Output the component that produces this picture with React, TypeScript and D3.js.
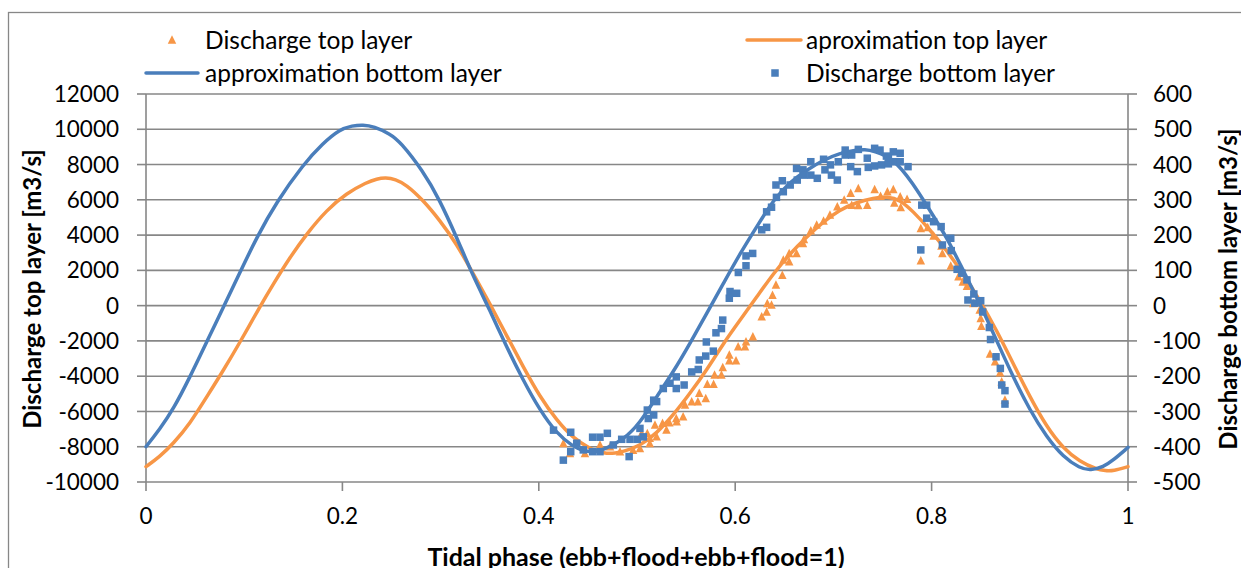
import React from "react";
import * as d3 from "d3";

// ---------- data ----------
const xTicks = [0, 0.2, 0.4, 0.6, 0.8, 1];
const leftTicks = [-10000, -8000, -6000, -4000, -2000, 0, 2000, 4000, 6000, 8000, 10000, 12000];
const rightTicks = [-500, -400, -300, -200, -100, 0, 100, 200, 300, 400, 500, 600];

// approximation top layer (left axis) [phase, m3/s]
const approxTop: [number, number][] = [
  [0, -9130], [0.014, -8560], [0.028, -7810], [0.045, -6670], [0.062, -5160], [0.079, -3650],
  [0.096, -2050], [0.113, -350], [0.13, 1260], [0.147, 2770], [0.164, 4100], [0.184, 5420],
  [0.204, 6370], [0.225, 7000], [0.235, 7190], [0.244, 7260], [0.254, 7170], [0.265, 6860],
  [0.282, 5990], [0.299, 4850], [0.316, 3530], [0.333, 1830], [0.35, 130], [0.367, -1670],
  [0.384, -3460], [0.401, -5160], [0.418, -6480], [0.435, -7520], [0.452, -8090], [0.46, -8280],
  [0.469, -8390], [0.478, -8360], [0.486, -8280], [0.503, -7950], [0.52, -7240], [0.537, -6200],
  [0.554, -4970], [0.571, -3650], [0.588, -2140], [0.605, -820], [0.622, 500], [0.639, 1830],
  [0.656, 2960], [0.673, 3900], [0.69, 4760], [0.706, 5420], [0.723, 5850], [0.741, 6100],
  [0.755, 6190], [0.768, 6000], [0.781, 5350], [0.798, 4330], [0.815, 3150], [0.832, 1830],
  [0.849, 320], [0.866, -1380], [0.883, -3270], [0.9, -5160], [0.917, -6860], [0.934, -8090],
  [0.951, -8850], [0.968, -9280], [0.977, -9360], [0.985, -9370], [1, -9130],
];

// approximation bottom layer (right axis) [phase, m3/s]
const approxBottom: [number, number][] = [
  [0, -400], [0.014, -350], [0.028, -293], [0.045, -201], [0.062, -102], [0.079, -3],
  [0.096, 96], [0.113, 195], [0.133, 294], [0.16, 400], [0.18, 460], [0.1975, 500],
  [0.21, 510], [0.221, 513], [0.232, 508], [0.2485, 487], [0.2587, 465], [0.282, 382],
  [0.299, 300], [0.316, 196], [0.333, 84], [0.35, -12], [0.367, -116], [0.384, -211],
  [0.401, -296], [0.418, -362], [0.435, -400], [0.445, -411], [0.455, -415], [0.465, -410],
  [0.486, -381], [0.503, -333], [0.52, -258], [0.537, -188], [0.554, -107], [0.571, -22],
  [0.588, 63], [0.605, 148], [0.622, 224], [0.639, 300], [0.656, 351], [0.673, 385],
  [0.69, 413], [0.706, 432], [0.723, 441], [0.732, 443], [0.741, 439], [0.761, 418],
  [0.781, 347], [0.798, 271], [0.815, 196], [0.832, 101], [0.849, 7], [0.866, -98],
  [0.883, -202], [0.9, -296], [0.917, -372], [0.934, -429], [0.951, -461], [0.962, -467],
  [0.975, -457], [0.985, -438], [1, -402],
];

// discharge top layer observations (left axis)
const dischargeTop: [number, number][] = [
  [0.425, -7810], [0.4318, -8380], [0.447, -8380], [0.4623, -7900], [0.4725, -8000], [0.4827, -8280],
  [0.496, -8190], [0.503, -8090], [0.513, -7810], [0.52, -7430], [0.5183, -6770], [0.53, -7050],
  [0.5404, -6580], [0.5048, -7240], [0.5105, -7240], [0.513, -7520], [0.526, -6670], [0.533, -6640],
  [0.54, -6390], [0.547, -6300], [0.5489, -5630], [0.5557, -5450], [0.562, -5450], [0.5634, -4970],
  [0.57, -5260], [0.5716, -4450], [0.578, -4450], [0.579, -3930], [0.586, -3930], [0.5873, -3500],
  [0.594, -3120], [0.594, -2800], [0.6008, -3120], [0.603, -2330], [0.61, -2330], [0.611, -2050],
  [0.618, -1760], [0.627, -630], [0.632, -350], [0.6327, 130], [0.637, 40], [0.638, 600],
  [0.6415, 1170], [0.648, 1730], [0.649, 2590], [0.655, 2960], [0.655, 2490], [0.6625, 2960],
  [0.669, 3530], [0.67, 3760], [0.677, 4250], [0.683, 4570], [0.69, 4810], [0.6965, 5140],
  [0.704, 5610], [0.711, 5990], [0.7176, 6370], [0.7186, 5700], [0.7254, 6650], [0.7254, 5680],
  [0.7345, 5700], [0.742, 6590], [0.748, 6210], [0.755, 6460], [0.761, 6590], [0.762, 5830],
  [0.768, 6180], [0.7686, 5570], [0.775, 6030], [0.789, 4380], [0.796, 4440], [0.802, 3950],
  [0.81, 3380], [0.811, 2960], [0.789, 2550], [0.8195, 2250], [0.8273, 1640], [0.8317, 1350],
  [0.836, 1110], [0.8425, 130], [0.849, -250], [0.85, -720], [0.8507, -1160], [0.8595, -2740],
  [0.8646, -3180], [0.8697, -3800], [0.8714, -4310], [0.8747, -5350],
];

// discharge bottom layer observations (right axis)
const dischargeBottom: [number, number][] = [
  [0.415, -353], [0.4325, -359], [0.425, -438], [0.4325, -414], [0.4386, -390], [0.4453, -409],
  [0.4548, -373], [0.4623, -373], [0.4698, -362], [0.4548, -414], [0.4623, -414], [0.4759, -395],
  [0.4844, -379], [0.4929, -379], [0.492, -428], [0.5003, -379], [0.503, -348], [0.5115, -320],
  [0.517, -310], [0.5105, -296], [0.52, -272], [0.5064, -372], [0.517, -268], [0.5268, -235],
  [0.5336, -220], [0.54, -202], [0.54, -235], [0.548, -225], [0.5557, -188], [0.5624, -181],
  [0.5634, -154], [0.57, -143], [0.5706, -103], [0.5777, -129], [0.5804, -77], [0.586, -65],
  [0.5873, -41], [0.594, 21], [0.5947, 40], [0.6015, 35], [0.6032, 94], [0.611, 113],
  [0.611, 141], [0.6178, 148], [0.627, 215], [0.632, 222], [0.632, 266], [0.637, 279],
  [0.642, 307], [0.6415, 342], [0.649, 323], [0.648, 354], [0.656, 342], [0.6632, 356],
  [0.6625, 389], [0.669, 385], [0.67, 370], [0.677, 408], [0.677, 370], [0.6836, 361],
  [0.69, 415], [0.6914, 385], [0.697, 399], [0.698, 370], [0.704, 356], [0.705, 408],
  [0.712, 441], [0.712, 427], [0.7176, 394], [0.7186, 427], [0.7244, 380], [0.7254, 443],
  [0.7345, 418], [0.7355, 392], [0.742, 446], [0.742, 396], [0.7475, 441], [0.749, 399],
  [0.754, 424], [0.756, 402], [0.761, 436], [0.763, 408], [0.756, 418], [0.768, 432],
  [0.768, 408], [0.776, 394], [0.79, 285], [0.795, 285], [0.795, 248], [0.802, 238],
  [0.8097, 224], [0.789, 158], [0.811, 172], [0.8195, 191], [0.82, 156], [0.826, 103],
  [0.8308, 92], [0.836, 73], [0.843, 33], [0.837, 16], [0.844, 7], [0.85, 14],
  [0.852, -18], [0.8588, -62], [0.86, -96], [0.8656, -145], [0.87, -178], [0.8714, -225],
  [0.8747, -241], [0.8747, -279],
];

// ---------- styles ----------
const BLUE = "#4a7ebb";
const ORANGE = "#f79646";
const GRID = "#878787";
const FONT = "Lato, Carlito, 'Liberation Sans', sans-serif";

const W = 1241;
const H = 568;
const PL = 146, PR = 1128, PT = 94, PB = 482;

export default function App() {
  const x = d3.scaleLinear().domain([0, 1]).range([PL, PR]);
  const yL = d3.scaleLinear().domain([-10000, 12000]).range([PB, PT]);
  const yR = d3.scaleLinear().domain([-500, 600]).range([PB, PT]);

  const lineTop = d3
    .line<[number, number]>()
    .x((d) => x(d[0]))
    .y((d) => yL(d[1]))
    .curve(d3.curveBasis);
  const lineBottom = d3
    .line<[number, number]>()
    .x((d) => x(d[0]))
    .y((d) => yR(d[1]))
    .curve(d3.curveBasis);

  const tri = (cx: number, cy: number, s: number) =>
    `M${cx},${cy - s * 0.55}L${cx + s * 0.5},${cy + s * 0.45}L${cx - s * 0.5},${cy + s * 0.45}Z`;

  const tick = 22.5;
  const legend = 24.5;

  return (
    <svg
      width={W}
      height={H}
      style={{ position: "absolute", left: 0, top: 0, background: "#fff" }}
      fontFamily={FONT}
    >
      <rect x={0} y={0} width={W} height={H} fill="#fff" />
      <rect x={8.5} y={12.5} width={W + 20} height={H + 20} fill="none" stroke={GRID} strokeWidth={1.3} />

      {/* gridlines */}
      {leftTicks.map((t) => (
        <line key={"g" + t} x1={PL} x2={PR} y1={yL(t)} y2={yL(t)} stroke={GRID} strokeWidth={1.6} />
      ))}
      {/* axes */}
      <line x1={PL} x2={PL} y1={PT} y2={PB} stroke={GRID} strokeWidth={1.6} />
      <line x1={PR} x2={PR} y1={PT} y2={PB} stroke={GRID} strokeWidth={1.6} />
      {leftTicks.map((t) => (
        <g key={"l" + t}>
          <line x1={PL - 9} x2={PL} y1={yL(t)} y2={yL(t)} stroke={GRID} strokeWidth={1.6} />
          <text x={119} y={yL(t)} dy="0.36em" textAnchor="end" fontSize={tick}>
            {t}
          </text>
        </g>
      ))}
      {rightTicks.map((t) => (
        <g key={"r" + t}>
          <line x1={PR} x2={PR + 9} y1={yR(t)} y2={yR(t)} stroke={GRID} strokeWidth={1.6} />
          <text x={1153} y={yR(t)} dy="0.36em" textAnchor="start" fontSize={tick}>
            {t}
          </text>
        </g>
      ))}
      {xTicks.map((t) => (
        <g key={"x" + t}>
          <line x1={x(t)} x2={x(t)} y1={PB} y2={PB + 9} stroke={GRID} strokeWidth={1.6} />
          <text x={x(t)} y={516} dy="0.36em" textAnchor="middle" fontSize={tick}>
            {t}
          </text>
        </g>
      ))}

      {/* axis titles */}
      <text
        transform={`translate(32,289) rotate(-90)`}
        textAnchor="middle"
        dy="0.36em"
        fontWeight="bold"
        fontSize={24}
      >
        Discharge top layer [m3/s]
      </text>
      <text
        transform={`translate(1228,289) rotate(-90)`}
        textAnchor="middle"
        dy="0.36em"
        fontWeight="bold"
        fontSize={24}
      >
        Discharge bottom layer [m3/s]
      </text>
      <text x={636} y={557} dy="0.36em" textAnchor="middle" fontWeight="bold" fontSize={25}>
        Tidal phase (ebb+flood+ebb+flood=1)
      </text>

      {/* series */}
      {dischargeTop.map((d, i) => (
        <path key={"t" + i} d={tri(x(d[0]), yL(d[1]), 8.5)} fill={ORANGE} />
      ))}
      <path d={lineTop(approxTop) || ""} fill="none" stroke={ORANGE} strokeWidth={3.5} strokeLinecap="round" />
      <path d={lineBottom(approxBottom) || ""} fill="none" stroke={BLUE} strokeWidth={3.5} strokeLinecap="round" />
      {dischargeBottom.map((d, i) => (
        <rect key={"b" + i} x={x(d[0]) - 3.75} y={yR(d[1]) - 3.75} width={7.5} height={7.5} fill={BLUE} />
      ))}

      {/* legend */}
      <path d={tri(172, 40, 8.5)} fill={ORANGE} />
      <text x={205} y={40} dy="0.36em" fontSize={legend}>
        Discharge top layer
      </text>
      <line x1={146} x2={198} y1={73} y2={73} stroke={BLUE} strokeWidth={3.5} strokeLinecap="round" />
      <text x={205} y={73} dy="0.36em" fontSize={legend}>
        approximation bottom layer
      </text>
      <line x1={747} x2={801} y1={40} y2={40} stroke={ORANGE} strokeWidth={3.5} strokeLinecap="round" />
      <text x={806} y={40} dy="0.36em" fontSize={legend}>
        aproximation top layer
      </text>
      <rect x={771.25} y={69.25} width={7.5} height={7.5} fill={BLUE} />
      <text x={806} y={73} dy="0.36em" fontSize={legend}>
        Discharge bottom layer
      </text>
    </svg>
  );
}
